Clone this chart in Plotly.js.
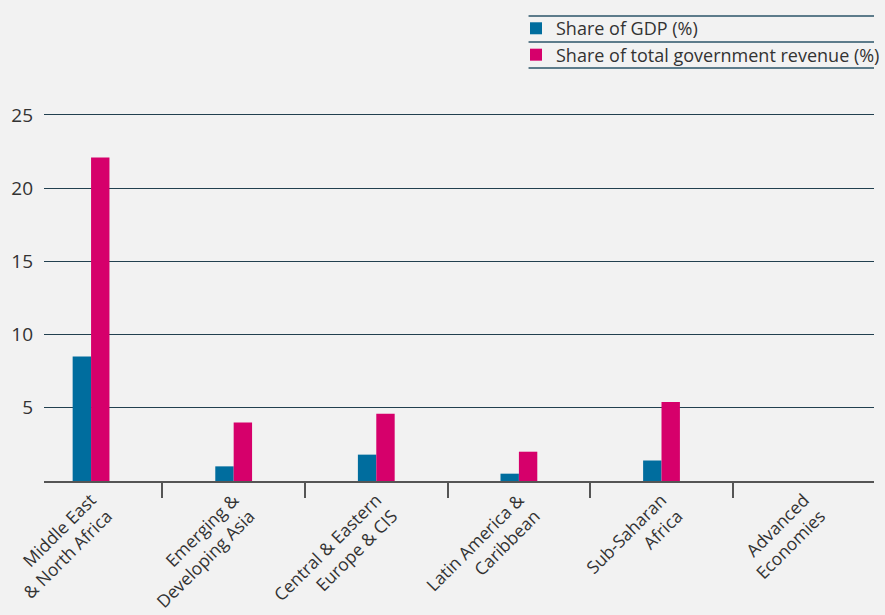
<!DOCTYPE html>
<html>
<head>
<meta charset="utf-8">
<script src="https://cdn.plot.ly/plotly-3.0.1.min.js"></script>
<style>html,body{margin:0;padding:0;background:#f2f2f2;}#chart{width:885px;height:615px;}</style>
</head>
<body>
<div id="chart"></div>
<script>
var categories = ["Middle East<br>& North Africa", "Emerging &<br>Developing Asia", "Central & Eastern<br>Europe & CIS", "Latin America &<br>Caribbean", "Sub-Saharan<br>Africa", "Advanced<br>Economies"];
var seriesNames = ["Share of GDP (%)", "Share of total government revenue (%)"];
var shareGDP = [8.5, 1.0, 1.8, 0.5, 1.4, null];
var shareRevenue = [22.1, 4.0, 4.6, 2.0, 5.4, null];
var yTicks = [5, 10, 15, 20, 25];

var font = "'Open Sans', 'DejaVu Sans', sans-serif";
var traces = [
  {type: 'bar', name: seriesNames[0], x: categories, y: shareGDP, marker: {color: '#006d9e', line: {width: 0}}},
  {type: 'bar', name: seriesNames[1], x: categories, y: shareRevenue, marker: {color: '#d6006b', line: {width: 0}}}
];

var lineY = [1.2205, 1.1522, 1.084];
var shapes = lineY.map(function (yy) {
  return {type: 'line', xref: 'paper', yref: 'paper', x0: 0.5838, x1: 1.0, y0: yy, y1: yy,
          line: {color: '#2b5468', width: 1.3}};
});

var layout = {
  width: 885, height: 615,
  margin: {l: 44, r: 0, t: 100, b: 134},
  paper_bgcolor: '#f2f2f2', plot_bgcolor: '#f2f2f2',
  font: {family: font, color: '#333333', size: 15},
  barmode: 'group', bargap: 0.742, bargroupgap: 0,
  showlegend: true,
  legend: {x: 0.569, y: 1.236, xanchor: 'left', yanchor: 'top', bgcolor: 'rgba(0,0,0,0)',
           font: {family: font, size: 18, color: '#333333'}, itemwidth: 30, tracegroupgap: 0},
  xaxis: {type: 'category', range: [-0.33, 5.49], tickson: 'boundaries', ticks: 'outside', ticklen: 15,
          tickwidth: 2, tickcolor: '#555555', showline: true, linecolor: '#555555', linewidth: 2,
          showgrid: false, tickangle: -45, tickfont: {family: font, size: 17.5, color: '#333333'}, fixedrange: true},
  yaxis: {range: [0, 26.02], tickvals: yTicks, ticktext: yTicks.map(String), showgrid: true, gridcolor: '#22404f',
          gridwidth: 1, zeroline: false, showline: false, ticks: '', ticklabelstandoff: 10,
          tickfont: {family: font, size: 19, color: '#333333'}, fixedrange: true},
  shapes: shapes
};

Plotly.newPlot('chart', traces, layout, {displayModeBar: false, staticPlot: true});
</script>
</body>
</html>
